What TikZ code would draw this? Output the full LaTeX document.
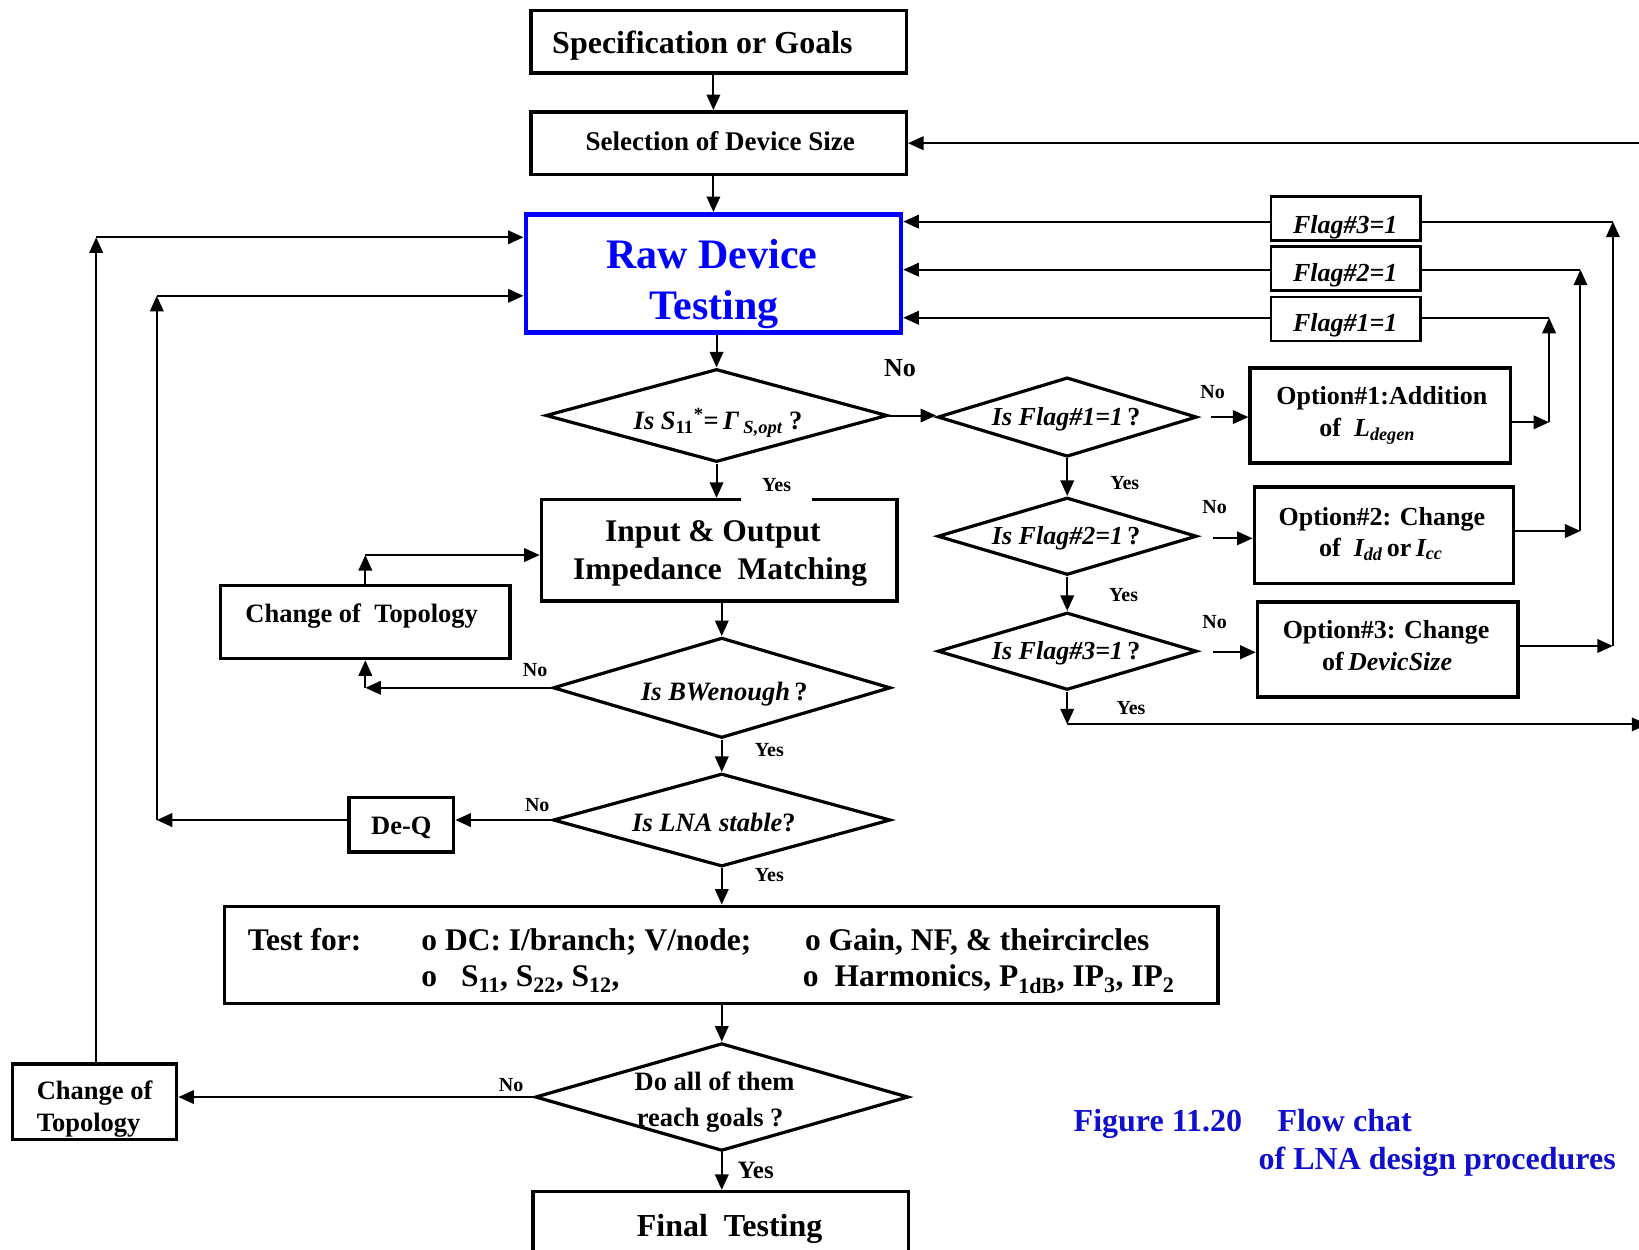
\documentclass[tikz,border=0pt]{standalone}
\usepackage{fontspec}
\setmainfont{Liberation Serif}
\usetikzlibrary{arrows.meta,shapes.geometric,fit,calc}
\definecolor{rawblue}{RGB}{0,0,255}
\definecolor{capblue}{RGB}{16,16,204}
\newcommand{\fsz}[1]{\fontsize{#1pt}{#1pt}\selectfont\bfseries}
\begin{document}
\begin{tikzpicture}[x=1.0453pt, y=-1.0453pt,
  box/.style={draw, rectangle, line width=3.5pt, inner sep=0pt},
  flagbox/.style={draw, rectangle, line width=2.5pt, inner sep=0pt},
  dia/.style={draw, diamond, line width=3.2pt, inner sep=0pt},
  con/.style={line width=2pt},
  arr/.style={line width=2pt, -{Triangle[length=15.5pt,width=13.5pt]}},
  lbl/.style={anchor=base, inner sep=0pt},
  lbll/.style={anchor=base west, inner sep=0pt},
  small/.style={lbl, font=\fsz{20}},
]
\useasboundingbox (0,0) rectangle (1568,1195);

% ---------- boxes ----------
\node[box, fit={(508,10) (867,70)}] (spec) {};
\node[box, fit={(508,107) (867,167)}] (sel) {};
\node[box, draw=rawblue, line width=4.5pt, fit={(503,205) (862,318)}] (rdt) {};
\node[flagbox, fit={(1216,188) (1359,230)}] (flag3) {};
\node[flagbox, fit={(1216,236) (1359,278)}] (flag2) {};
\node[flagbox, fit={(1216,284) (1359,326)}] (flag1) {};
\node[box, fit={(1196,352) (1445,443)}] (opt1) {};
\node[box, fit={(1200,466) (1448,558)}] (opt2) {};
\node[box, fit={(1203,576) (1452,667)}] (opt3) {};
\node[box, fit={(518,478) (858,575)}] (io) {};
\node[box, fit={(211,560) (488,630)}] (cot1) {};
\node[box, fit={(334,763) (434,815)}] (deq) {};
\node[box, fit={(215,867) (1165,960)}] (test) {};
\node[box, fit={(12,1018) (169,1090)}] (cot2) {};
\node[box, fit={(510,1140) (869,1215)}] (final) {};

% ---------- diamonds ----------
\node[dia, minimum width=341.8pt, minimum height=93pt] (s11) at (685.5,397.5) {};
\node[dia, minimum width=259.2pt, minimum height=79.4pt] (fl1) at (1021,399) {};
\node[dia, minimum width=259.2pt, minimum height=77.4pt] (fl2) at (1021,513) {};
\node[dia, minimum width=259.2pt, minimum height=77.4pt] (fl3) at (1021,623) {};
\node[dia, minimum width=337.6pt, minimum height=100.3pt] (bw) at (690.5,658) {};
\node[dia, minimum width=337.6pt, minimum height=93pt] (lna) at (690.5,784.5) {};
\node[dia, minimum width=373.2pt, minimum height=107.7pt] (doall) at (690.5,1049.5) {};

% ---------- helper coordinates ----------
\coordinate (edgeTop) at (1576,137);
\coordinate (edgeBot) at (1576,693);
\coordinate (c1r) at (1482,404);
\coordinate (c2r) at (1512,508);
\coordinate (c3r) at (1543,618);
\coordinate (f1y) at (0,304);
\coordinate (f2y) at (0,258);
\coordinate (f3y) at (0,212);
\coordinate (M) at (349,531);
\coordinate (L1) at (92,227);
\coordinate (L2) at (150,283);

% ---------- main column connectors ----------
\draw[arr] (spec.south -| rdt.north) -- (sel.north -| rdt.north);
\draw[arr] (sel.south -| rdt.north) -- (rdt.north);
\draw[arr] (s11.north |- rdt.south) -- (s11.north);
\draw[arr] (s11.south) -- (s11.south |- io.north);
\draw[arr] (bw.north |- io.south) -- (bw.north);
\draw[arr] (bw.south) -- (lna.north);
\draw[arr] (lna.south) -- (lna.south |- test.north);
\draw[arr] (doall.north |- test.south) -- (doall.north);
\draw[arr] (doall.south) -- (doall.south |- final.north);

% top feedback into Selection
\draw[arr] (edgeTop) -- (sel.east);

% S11 no branch
\draw[arr] (s11.east) -- (s11.east -| fl1.west);
\draw[arr] ($(fl1.east)+(12,0)$) -- (opt1.west |- fl1.east);
\draw[arr] ($(fl2.east)+(14,2)$) -- (opt2.west |- 0,515);
\draw[arr] ($(fl3.east)+(14,1)$) -- (opt3.west |- 0,624);
\draw[arr] (fl1.south) -- (fl2.north);
\draw[arr] (fl2.south) -- (fl3.north);
\draw[arr] (fl3.south) -- (fl3.south |- edgeBot);
\draw[arr] (fl3.south |- edgeBot) -- (edgeBot);

% option loops back to flags
\draw[arr] (opt1.east |- c1r) -- (c1r);
\draw[arr] (c1r) -- (c1r |- f1y);
\draw[con] (c1r |- f1y) -- (flag1.east |- f1y);
\draw[arr] (opt2.east |- c2r) -- (c2r);
\draw[arr] (c2r) -- (c2r |- f2y);
\draw[con] (c2r |- f2y) -- (flag2.east |- f2y);
\draw[arr] (opt3.east |- c3r) -- (c3r);
\draw[arr] (c3r) -- (c3r |- f3y);
\draw[con] (c3r |- f3y) -- (flag3.east |- f3y);
\draw[arr] (flag1.west |- f1y) -- (rdt.east |- f1y);
\draw[arr] (flag2.west |- f2y) -- (rdt.east |- f2y);
\draw[arr] (flag3.west |- f3y) -- (rdt.east |- f3y);

% BW no -> change of topology -> matching
\draw[arr] (bw.west) -- (bw.west -| cot1.south);
\draw[arr] (bw.west -| cot1.south) -- (cot1.south);
\draw[arr] (cot1.north) -- (cot1.north |- M);
\draw[arr] (cot1.north |- M) -- (M -| io.west);

% LNA no -> De-Q -> raw device testing
\draw[arr] (lna.west) -- (lna.west -| deq.east);
\draw[arr, line width=2.4pt] (deq.west |- lna.west) -- (L2 |- lna.west);
\draw[arr] (L2 |- lna.west) -- (L2);
\draw[arr] (L2) -- (L2 -| rdt.west);

% Do all no -> change of topology -> raw device testing
\draw[arr] (doall.west) -- (doall.west -| cot2.east);
\draw[arr, line width=1.6pt] (cot2.north -| L1) -- (L1);
\draw[arr] (L1) -- (L1 -| rdt.west);

% ---------- labels ----------
\node[lbl, font=\fsz{32}] (specT) at (672,51) {Specification or Goals};
\node[lbl, font=\fsz{27}] (selT) at (689,144) {Selection of Device Size};
\node[lbl, font=\fsz{42}, text=rawblue] (rdtA) at (681,256.5) {Raw Device};
\node[lbl, font=\fsz{42}, text=rawblue] (rdtB) at (683,306) {Testing};

\node[lbl, font=\fsz{26}\itshape] (flag3T) at (1287,223) {Flag\#3=1};
\node[lbl, font=\fsz{26}\itshape] (flag2T) at (1287,269.5) {Flag\#2=1};
\node[lbl, font=\fsz{26}\itshape] (flag1T) at (1287,317) {Flag\#1=1};

\node[lbl, font=\fsz{26.5}] (s11T) at (687,411) {{\itshape Is S}\textsubscript{11}\textsuperscript{*}=\,{\itshape Γ}\,\textsubscript{\itshape S,opt}\ ?};
\node[lbl, font=\fsz{26}] (noBig) at (861,360) {No};

\node[lbl, font=\fsz{26}] (fl1T) at (1020,407) {{\itshape Is Flag\#1=1}\,?};
\node[lbl, font=\fsz{26}] (fl2T) at (1020,520.5) {{\itshape Is Flag\#2=1}\,?};
\node[lbl, font=\fsz{26}] (fl3T) at (1020,630.5) {{\itshape Is Flag\#3=1}\,?};

\node[small] (no1) at (1160,381) {No};
\node[small] (no2) at (1162,491) {No};
\node[small] (no3) at (1162,601) {No};
\node[small] (yes1) at (1076,468) {Yes};
\node[small] (yes2) at (1075,575.5) {Yes};
\node[small] (yes3) at (1082,684) {Yes};

\node[lbl, font=\fsz{26}] (o1a) at (1322,387) {Option\#1:Addition};
\node[lbl, font=\fsz{26}] (o1b) at (1308,418) {of\ \ {\itshape L\textsubscript{degen}}};
\node[lbl, font=\fsz{26}] (o2a) at (1322,502.5) {Option\#2: Change};
\node[lbl, font=\fsz{26}] (o2b) at (1321,532) {of\ \ {\itshape I\textsubscript{dd}}\,or\,{\itshape I\textsubscript{cc}}};
\node[lbl, font=\fsz{26}] (o3a) at (1326,610.5) {Option\#3: Change};
\node[lbl, font=\fsz{26}] (o3b) at (1327,641) {of\,{\itshape DevicSize}};

\node[lbl, font=\fsz{20}, fill=white, inner xsep=0pt, inner ysep=12pt, minimum width=71pt] (yesS11) at (743,470) {Yes};

\node[lbl, font=\fsz{31.5}] (ioA) at (682,518) {Input \& Output};
\node[lbl, font=\fsz{31.5}] (ioB) at (689,554) {Impedance\ \ Matching};
\node[lbl, font=\fsz{26.5}] (cot1T) at (346,595.5) {Change of\ \ Topology};

\node[lbl, font=\fsz{26.5}] (bwT) at (693,670) {{\itshape Is BWenough}\,?};
\node[small] (noBW) at (512,647) {No};
\node[small] (yesBW) at (736,724) {Yes};

\node[lbl, font=\fsz{26.5}] (lnaT) at (683,795) {{\itshape Is LNA stable}?};
\node[small] (noLNA) at (514,776.5) {No};
\node[small] (yesLNA) at (736,843.5) {Yes};
\node[lbl, font=\fsz{26.5}] (deqT) at (384,798) {De-Q};

\node[lbll, font=\fsz{31.5}] (tfor) at (237,909) {Test for:};
\node[lbll, font=\fsz{31.5}] (tdc) at (403,909) {o DC: I/branch; V/node;};
\node[lbll, font=\fsz{31.5}] (tgain) at (770,909) {o Gain, NF, \& theircircles};
\node[lbll, font=\fsz{31.5}] (tsp) at (403,944) {o\hspace{24pt}S\textsubscript{11}, S\textsubscript{22}, S\textsubscript{12},};
\node[lbll, font=\fsz{31.5}] (thar) at (768,944) {o\hspace{16pt}Harmonics, P\textsubscript{1dB}, IP\textsubscript{3}, IP\textsubscript{2}};

\node[lbll, font=\fsz{26.5}] (daA) at (607,1043.4) {Do all of them};
\node[lbll, font=\fsz{26.5}] (daB) at (609,1078) {reach goals ?};
\node[small] (noDA) at (489,1044) {No};
\node[lbl, font=\fsz{25}] (yesDA) at (723,1127) {Yes};

\node[lbll, font=\fsz{26.5}] (cot2A) at (35,1052) {Change of};
\node[lbll, font=\fsz{26.5}] (cot2B) at (35,1082.6) {Topology};

\node[lbl, font=\fsz{32}] (finalT) at (698,1183) {Final\ \ Testing};

\node[lbll, font=\fsz{32}, text=capblue] (cap1) at (1027,1082.6) {Figure 11.20};
\node[lbll, font=\fsz{32}, text=capblue] (cap2) at (1222,1082.6) {Flow chat};
\node[lbll, font=\fsz{32}, text=capblue] (cap3) at (1204,1119) {of LNA design procedures};
\end{tikzpicture}
\end{document}
